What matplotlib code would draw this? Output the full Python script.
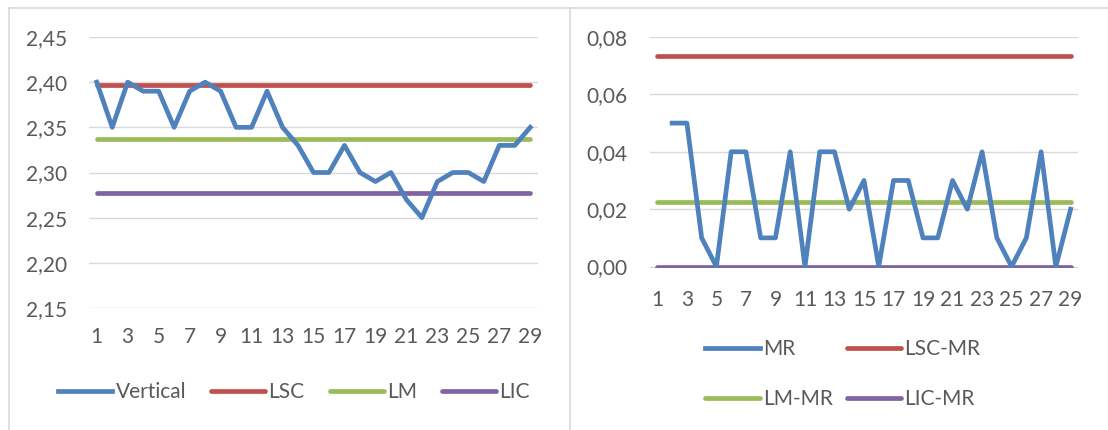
import matplotlib
matplotlib.use("Agg")
import matplotlib.pyplot as plt
from matplotlib.lines import Line2D

plt.rcParams['font.family'] = ['Lato', 'DejaVu Sans']

# Individual measurements (sample 1..29)
samples = list(range(1, 30))
vertical = [2.40, 2.35, 2.40, 2.39, 2.39, 2.35, 2.39, 2.40, 2.39, 2.35,
            2.35, 2.39, 2.35, 2.33, 2.30, 2.30, 2.33, 2.30, 2.29, 2.30,
            2.27, 2.25, 2.29, 2.30, 2.30, 2.29, 2.33, 2.33, 2.35]

# Moving ranges (from sample 2 onward)
mr_samples = list(range(2, 30))
mr = [0.05, 0.05, 0.01, 0.00, 0.04, 0.04, 0.01, 0.01, 0.04, 0.00,
      0.04, 0.04, 0.02, 0.03, 0.00, 0.03, 0.03, 0.01, 0.01, 0.03,
      0.02, 0.04, 0.01, 0.00, 0.01, 0.04, 0.00, 0.02]

# Control limits
lsc, lm, lic = 2.397, 2.337, 2.277
lsc_mr, lm_mr, lic_mr = 0.0735, 0.0225, 0.0

x_ticks = list(range(1, 30, 2))
ind_yticks = [2.15, 2.20, 2.25, 2.30, 2.35, 2.40, 2.45]
mr_yticks = [0.00, 0.02, 0.04, 0.06, 0.08]

BLUE, RED, GREEN, PURPLE = "#4F81BD", "#C0504D", "#9BBB59", "#8064A2"
TEXT = "#595959"
GRID = "#D9D9D9"
FS = 15
LW = 3.4

W, H = 1108, 430
fig = plt.figure(figsize=(W / 100, H / 100), dpi=100)
fig.patch.set_facecolor("white")


def px_axes(left, top, right, bottom):
    return fig.add_axes([left / W, 1 - bottom / H, (right - left) / W, (bottom - top) / H])


def style(ax, yticks, fmt, xpad):
    ax.set_xlim(0.5, 29.5)
    ax.set_ylim(yticks[0], yticks[-1])
    ax.set_yticks(yticks)
    ax.set_yticklabels([fmt.format(v).replace(".", ",") for v in yticks])
    ax.set_xticks(x_ticks)
    ax.set_xticklabels([str(v) for v in x_ticks])
    for s in ax.spines.values():
        s.set_visible(False)
    ax.grid(axis="y", color=GRID, linewidth=1.0)
    ax.set_axisbelow(True)
    ax.tick_params(axis="both", length=0, labelsize=FS, colors=TEXT)
    ax.tick_params(axis="y", pad=16)
    ax.tick_params(axis="x", pad=xpad)


# Individuals chart
ax1 = px_axes(89, 37, 538, 308)
ax1.plot(samples, [lsc] * len(samples), color=RED, lw=LW, label="LSC", solid_capstyle="round")
ax1.plot(samples, [lm] * len(samples), color=GREEN, lw=LW, label="LM", solid_capstyle="round")
ax1.plot(samples, [lic] * len(samples), color=PURPLE, lw=LW, label="LIC", solid_capstyle="round")
ax1.plot(samples, vertical, color=BLUE, lw=LW, label="Vertical", solid_joinstyle="round")
style(ax1, ind_yticks, "{:.2f}", 14)
h, l = ax1.get_legend_handles_labels()
order = [3, 0, 1, 2]
ax1.legend([h[i] for i in order], [l[i] for i in order], loc="center",
           bbox_to_anchor=(294 / W, 1 - 392 / H), bbox_transform=fig.transFigure,
           ncol=4, frameon=False, fontsize=FS, handlelength=2.6, handletextpad=0.15,
           columnspacing=1.2, labelcolor=TEXT)

# Moving range chart
ax2 = px_axes(650, 37, 1078, 268)
ax2.plot(samples, [lsc_mr] * len(samples), color=RED, lw=LW, label="LSC-MR", solid_capstyle="round")
ax2.plot(samples, [lm_mr] * len(samples), color=GREEN, lw=LW, label="LM-MR", solid_capstyle="round")
ax2.plot(samples, [lic_mr] * len(samples), color=PURPLE, lw=LW, label="LIC-MR", solid_capstyle="round")
ax2.plot(mr_samples, mr, color=BLUE, lw=LW, label="MR", solid_joinstyle="round")
style(ax2, mr_yticks, "{:.2f}", 16)
ax2.set_ylim(-0.0005, 0.08)
h, l = ax2.get_legend_handles_labels()
order = [3, 1, 0, 2]
ax2.legend([h[i] for i in order], [l[i] for i in order], loc="center",
           bbox_to_anchor=(843 / W, 1 - 374 / H), bbox_transform=fig.transFigure,
           ncol=2, frameon=False, fontsize=FS, handlelength=2.6, handletextpad=0.15,
           columnspacing=0.7, labelspacing=1.45, labelcolor=TEXT)

# Chart frames
frame = dict(color=GRID, lw=1.2, transform=fig.transFigure)
fig.add_artist(Line2D([9 / W, 1], [1 - 8 / H, 1 - 8 / H], **frame))
fig.add_artist(Line2D([9 / W, 9 / W], [0, 1 - 8 / H], **frame))
fig.add_artist(Line2D([570 / W, 570 / W], [0, 1 - 8 / H], **frame))

fig.savefig("out.png", dpi=100, facecolor="white")
